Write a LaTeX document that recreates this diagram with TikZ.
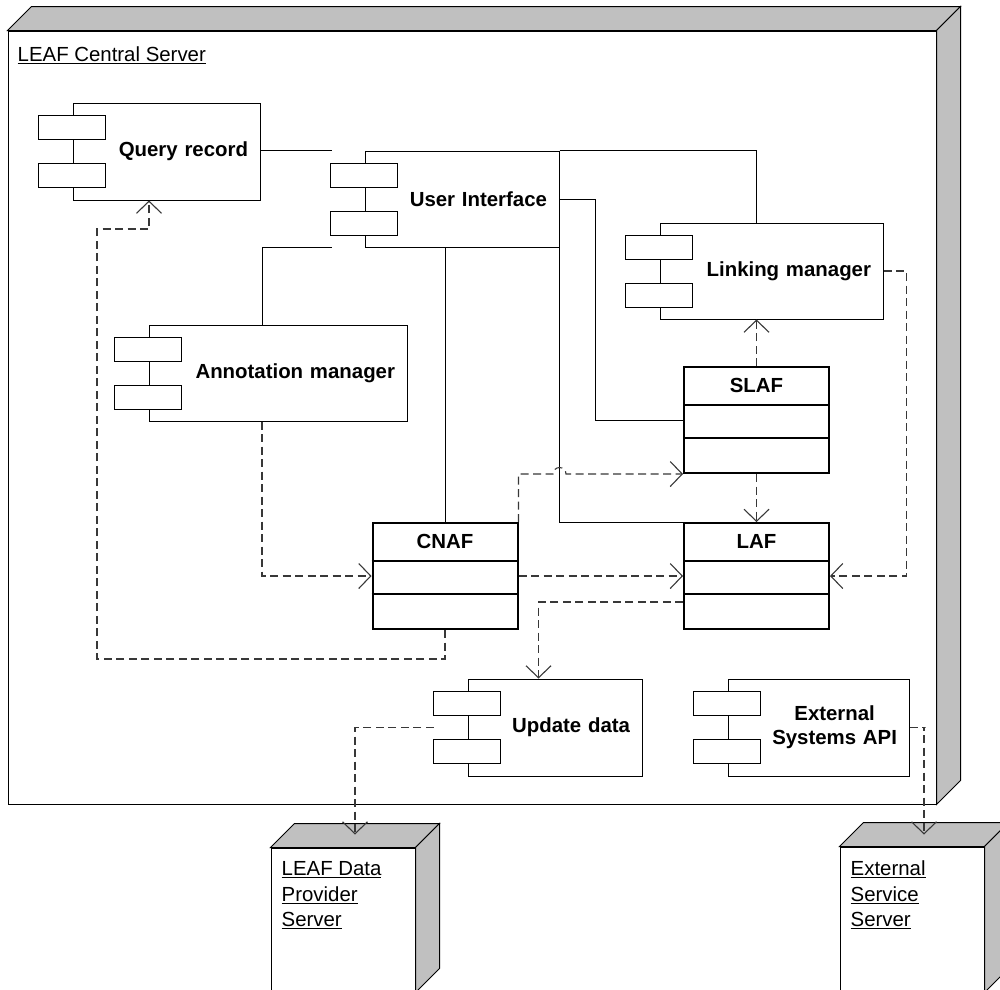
\documentclass[tikz,border=0pt]{standalone}
\usepackage{fontspec}
\setmainfont{Liberation Sans}
\usetikzlibrary{arrows.meta,calc}
\definecolor{nodegray}{RGB}{192,192,192}
\definecolor{dashgray}{RGB}{56,56,56}

\begin{document}
\begin{tikzpicture}[x=1pt, y=-1pt,
    comp/.style={draw, fill=white, line width=1pt, align=right, inner xsep=12pt, inner ysep=0pt,
      font=\fontsize{20.4}{24}\selectfont\bfseries},
    classbox/.style={draw, fill=white, line width=2pt, minimum width=145pt, minimum height=106pt, inner sep=0pt},
    classname/.style={anchor=north, minimum height=38.5pt, inner sep=0pt, font=\fontsize{20.4}{24}\selectfont\bfseries},
    srvface/.style={draw, fill=white, line width=1pt, inner sep=0pt},
    srvlabel/.style={align=left, inner sep=0pt, font=\fontsize{20.4}{25.5}\selectfont},
    link/.style={line width=1pt},
    dep/.style={line width=1.1pt, dashgray, dash pattern=on 8pt off 4.5pt, -{Straight Barb[length=12pt,width=25pt]}}]
  \fill[white] (0,0) rectangle (1000,989);
  \useasboundingbox (0,0) rectangle (1000,989);
  \clip (0,0) rectangle (1000,989);

  % nodes (servers)
  \node[srvface, minimum width=928pt, minimum height=773pt] (central) at (472,417.5) {};
  \node[srvface, minimum width=144pt, minimum height=144pt] (provider) at (343,920) {};
  \node[srvface, minimum width=144pt, minimum height=145pt] (extsrv) at (912,919.5) {};
  \foreach \srv in {central,provider,extsrv} {
    \filldraw[fill=nodegray, line width=1pt] (\srv.north west) -- ++(24,-24) -- ([shift={(24,-24)}]\srv.north east) -- (\srv.north east) -- cycle;
    \filldraw[fill=nodegray, line width=1pt] (\srv.north east) -- ++(24,-24) -- ([shift={(24,-24)}]\srv.south east) -- (\srv.south east) -- cycle;
  }
  \node[srvlabel, anchor=base west] (centrallabel) at ([shift={(10,31)}]central.north west) {\underline{LEAF Central Server}};
  \node[srvlabel, anchor=north west] (providerlabel) at ([shift={(11,14.2)}]provider.north west) {\underline{LEAF Data}\\\underline{Provider}\\\underline{Server}};
  \node[srvlabel, anchor=north west] (extsrvlabel) at ([shift={(11,14.2)}]extsrv.north west) {\underline{External}\\\underline{Service}\\\underline{Server}};

  % components
  \node[comp, text width=163pt, minimum height=97pt] (query) at (166.5,151.5) {Query record};
  \node[comp, text width=170pt, minimum height=96pt] (ui) at (462,199) {User Interface};
  \node[comp, text width=199pt, minimum height=96pt] (linking) at (771.5,271) {Linking manager};
  \node[comp, text width=234pt, minimum height=96pt] (annot) at (278,373) {Annotation manager};
  \node[comp, text width=150pt, minimum height=97pt] (update) at (555,727.5) {Update data};
  \node[comp, text width=157pt, minimum height=97pt] (extapi) at (818.5,727.5) {\begin{tabular}{@{}c@{}}External\\Systems API\end{tabular}};
  \foreach \c in {query,ui,linking,annot,update,extapi} {
    \draw[fill=white, line width=1pt] ([shift={(-34pt,12pt)}]\c.west) rectangle ([shift={(33pt,36pt)}]\c.west);
    \draw[fill=white, line width=1pt] ([shift={(-34pt,-12pt)}]\c.west) rectangle ([shift={(33pt,-36pt)}]\c.west);
  }

  % classes
  \node[classbox, label={[classname]north:SLAF}] (slaf) at (756.5,420) {};
  \node[classbox, label={[classname]north:LAF}] (laf) at (756.5,576) {};
  \node[classbox, label={[classname]north:CNAF}] (cnaf) at (445,576) {};
  \foreach \c in {slaf,laf,cnaf} {
    \draw[line width=2pt] ([yshift=-38.5pt]\c.north west) -- ([yshift=-38.5pt]\c.north east);
    \draw[line width=2pt] ([yshift=-72pt]\c.north west) -- ([yshift=-72pt]\c.north east);
  }

  % links
  \draw[link] (query.east |- ui.north) -- ([xshift=-33pt]ui.north west);
  \draw[link] ([xshift=-16pt]annot.north) |- ([xshift=-33pt]ui.south west);
  \draw[link] (cnaf.north |- ui.south) -- (cnaf.north);
  \draw[link] (ui.north east) -| (slaf.north |- linking.north);
  \draw[link] (ui.east) -- ([xshift=36pt]ui.east) |- (slaf.west);
  \draw[link] (ui.south east) |- (laf.north west);

  % dependencies
  \draw[dep] ([xshift=-16pt]annot.south) |- (cnaf.west);
  \draw[dep] (cnaf.south) -- ++(0,29) -- ++(-348,0) -- ++(0,-430) -| ([xshift=-17.5pt]query.south);
  \draw[dep] (cnaf.east) -- (laf.west);
  \draw[dep] (cnaf.north east) |- ([xshift=-6.5pt]ui.east |- slaf.south) arc[start angle=180, end angle=0, radius=6.5pt] -- (slaf.south west);
  \draw[dep] (slaf.south) -- (laf.north);
  \draw[dep] (slaf.north) -- (linking.south -| slaf.north);
  \draw[dep] (linking.east) -- ++(23,0) |- (laf.east);
  \draw[dep] ([yshift=-26pt]laf.west) -| ([xshift=-16.5pt]update.north);
  \draw[dep] ([xshift=-34pt]update.west) -| ([shift={(12,-13)}]provider.north);
  \draw[dep] (extapi.east) -- ++(16,0) -| ([shift={(12,-12)}]extsrv.north);
\end{tikzpicture}
\end{document}
